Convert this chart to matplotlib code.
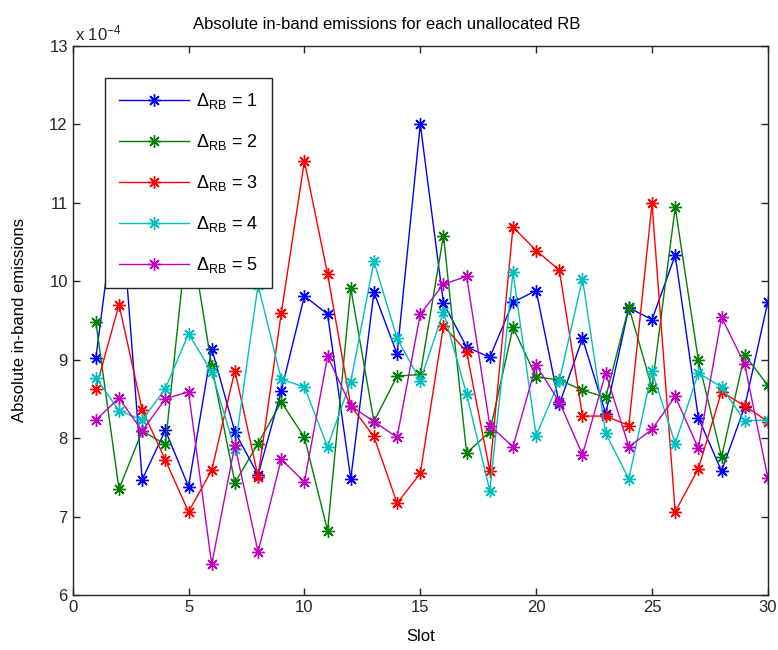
import numpy as np
import matplotlib
matplotlib.use('Agg')
import matplotlib.pyplot as plt

plt.rcParams['font.family'] = ['Liberation Sans', 'DejaVu Sans']
plt.rcParams['mathtext.fontset'] = 'custom'
plt.rcParams['mathtext.rm'] = 'Liberation Sans'
plt.rcParams['mathtext.it'] = 'Liberation Sans'

# slot index and emissions (in units of 1e-4)
slots = np.arange(1, 31)

rb1 = [9.02, 11.3, 7.47, 8.10, 7.38, 9.14, 8.08, 7.53, 8.60, 9.81,
       9.58, 7.48, 9.86, 9.07, 12.0, 9.72, 9.16, 9.03, 9.73, 9.88,
       8.43, 9.27, 8.31, 9.66, 9.51, 10.33, 8.26, 7.58, 8.40, 9.74]
rb2 = [9.48, 7.35, 8.09, 7.92, 10.75, 8.92, 7.43, 7.93, 8.46, 8.01,
       6.82, 9.91, 8.21, 8.79, 8.81, 10.58, 7.81, 8.08, 9.41, 8.78,
       8.74, 8.61, 8.52, 9.67, 8.64, 10.94, 8.99, 7.76, 9.06, 8.67]
rb3 = [8.63, 9.70, 8.36, 7.72, 7.06, 7.59, 8.86, 7.51, 9.59, 11.53,
       10.09, 8.41, 8.02, 7.17, 7.55, 9.43, 9.10, 7.58, 10.69, 10.39,
       10.14, 8.28, 8.28, 8.16, 10.99, 7.06, 7.61, 8.59, 8.41, 8.21]
rb4 = [8.77, 8.35, 8.23, 8.63, 9.33, 8.84, 7.86, 9.95, 8.75, 8.65,
       7.89, 8.72, 10.25, 9.27, 8.73, 9.61, 8.56, 7.33, 10.11, 8.03,
       8.73, 10.03, 8.06, 7.48, 8.85, 7.93, 8.83, 8.65, 8.22, 8.23]
rb5 = [8.23, 8.51, 8.09, 8.50, 8.59, 6.39, 7.91, 6.55, 7.73, 7.44,
       9.04, 8.41, 8.21, 8.01, 9.58, 9.96, 10.06, 8.16, 7.89, 8.93,
       8.46, 7.79, 8.83, 7.89, 8.11, 8.53, 7.87, 9.54, 8.94, 7.49]

series = [rb1, rb2, rb3, rb4, rb5]
labels = [r'$\Delta_{\mathrm{RB}}$ = %d' % k for k in range(1, 6)]
colors = ['#0000ff', '#008000', '#ff0000', '#00bfbf', '#bf00bf']

fig = plt.figure(figsize=(7.78, 6.5), dpi=100)
ax = fig.add_axes([0.0934, 0.0846, 0.8936, 0.8451])

for vals, lab, col in zip(series, labels, colors):
    ax.plot(slots, vals, color=col, lw=1.0, marker=(8, 2, 0),
            markersize=9, markeredgewidth=1.0, label=lab)

ax.set_xlim(0, 30)
ax.set_ylim(6, 13)
ax.set_xticks(np.arange(0, 31, 5))
ax.set_yticks(np.arange(6, 14, 1))
ax.tick_params(direction='in', length=5, top=True, right=True,
               labelsize=12, colors='#262626', width=1.0)
for s in ax.spines.values():
    s.set_linewidth(1.0)
    s.set_color('#262626')

ax.set_xlabel('Slot', fontsize=12, labelpad=10)
ax.set_ylabel('Absolute in-band emissions', fontsize=12, labelpad=16)
ax.text(0.003, 1.004, r'x 10$^{-4}$', transform=ax.transAxes,
        fontsize=12, ha='left', va='bottom', color='#262626')
fig.text(0.497, 0.962, 'Absolute in-band emissions for each unallocated RB',
         ha='center', va='center', fontsize=12)

leg = ax.legend(loc='upper left', bbox_to_anchor=(0.0465, 0.942),
                borderaxespad=0, fancybox=False, framealpha=1,
                edgecolor='#262626', fontsize=13, handlelength=3.9,
                labelspacing=1.16, borderpad=0.75, handletextpad=0.4)
leg.get_frame().set_linewidth(1.0)

fig.savefig('out.png', dpi=100)
